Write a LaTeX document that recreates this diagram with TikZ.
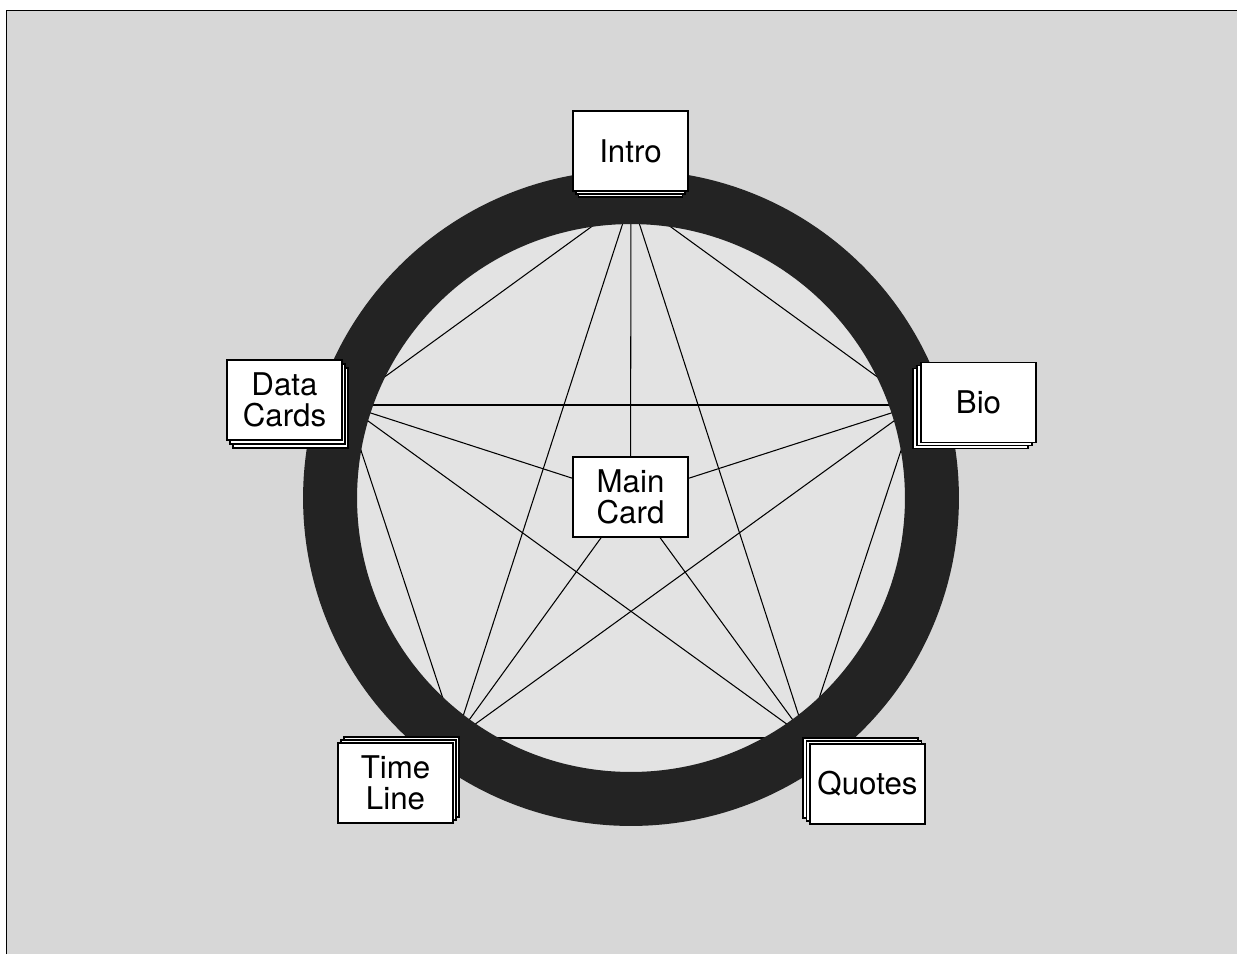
\documentclass[tikz,border=0pt]{standalone}
\usepackage{fontspec}
\setmainfont{TeX Gyre Heros}
\definecolor{bgcol}{HTML}{D7D7D7}
\definecolor{disccol}{HTML}{E3E3E3}
\definecolor{ringcol}{HTML}{232323}
\tikzset{
  card/.style={draw=black, line width=0.8pt, fill=white, minimum width=2.3cm,
    minimum height=1.6cm, inner sep=0pt, align=center,
    font=\fontsize{17.8}{17.8}\selectfont},
  backcard/.style={card, minimum width=2.3cm},
  link/.style={draw=black, line width=0.6pt},
}
\begin{document}
\begin{tikzpicture}[x=0.02cm, y=-0.02cm]
\useasboundingbox (0,0) rectangle (1237,954);
\fill[white] (0,0) rectangle (1237,954);
\fill[bgcol] (6.5,10.5) rectangle (1237,954);
\draw[line width=1pt] (6.5,954) -- (6.5,10.5) -- (1237,10.5);

\coordinate (c) at (631,498);
\fill[disccol] (c) circle[radius=5.5cm];

\coordinate (vI) at (631,198);
\coordinate (vD) at (346,405);
\coordinate (vB) at (916,405);
\coordinate (vT) at (456,738);
\coordinate (vQ) at (806,738);

\node[card] (main) at (630.5,497) {Main\\Card};

% complete graph between the five stacks
\draw[link] (vI) -- (vD);
\draw[link] (vI) -- (vB);
\draw[link] (vI) -- (vT);
\draw[link] (vI) -- (vQ);
\draw[link] (vD) -- (vB);
\draw[link] (vD) -- (vT);
\draw[link] (vD) -- (vQ);
\draw[link] (vB) -- (vT);
\draw[link] (vB) -- (vQ);
\draw[link] (vT) -- (vQ);
% spokes to the main card
\draw[link] (vI) -- (main);
\draw[link] (vD) -- (main);
\draw[link] (vB) -- (main);
\draw[link] (vT) -- (main);
\draw[link] (vQ) -- (main);

% ring
\fill[ringcol, even odd rule] (c) circle[radius=6.56cm] (c) circle[radius=5.48cm];

% Intro stack
\node[backcard, minimum width=2.08cm] (intro3) at (630.5,157) {};
\node[backcard, minimum width=2.18cm] (intro2) at (630.5,154) {};
\node[card] (intro) at (630.5,151) {\raisebox{-3pt}{Intro}};
% Data Cards stack
\node[backcard] (data3) at (290.5,408) {};
\node[backcard] (data2) at (287.5,404) {};
\node[card] (data) at (284.5,400) {Data\\Cards};
% Bio stack
\node[backcard] (bio3) at (970.5,408.5) {};
\node[backcard] (bio2) at (974.5,405.5) {};
\node[card] (bio) at (978.5,402.5) {Bio};
% Time Line stack
\node[backcard] (time3) at (401.5,777) {};
\node[backcard] (time2) at (398.5,780) {};
\node[card] (time) at (395.5,783) {Time\\Line};
% Quotes stack
\node[backcard] (quotes3) at (860.5,778) {};
\node[backcard] (quotes2) at (864,781) {};
\node[card] (quotes) at (867.5,784) {Quotes};
\end{tikzpicture}
\end{document}
